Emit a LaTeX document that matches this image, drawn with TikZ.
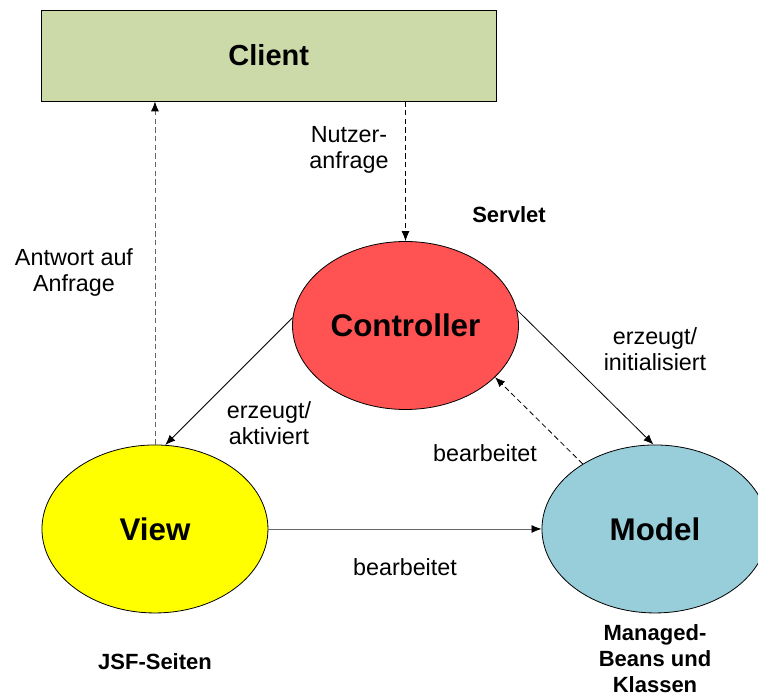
\documentclass[tikz,border=0pt]{standalone}
\usepackage{fontspec}
\setmainfont{Liberation Sans}
\usetikzlibrary{shapes.geometric,arrows.meta,positioning}

\definecolor{clientgreen}{RGB}{204,218,170}
\definecolor{ctrlred}{RGB}{255,82,82}
\definecolor{viewyellow}{RGB}{255,255,0}
\definecolor{modelblue}{RGB}{152,205,218}

\begin{document}
\begin{tikzpicture}[x=0.75pt, y=-0.75pt, node distance=152.6pt,
    bubble/.style={draw, ellipse, line width=0.6pt, minimum width=169.5pt, minimum height=126pt, inner sep=0pt, font=\fontsize{23.5}{28}\selectfont\bfseries},
    note/.style={align=center, font=\fontsize{17.5}{19.5}\selectfont},
    tag/.style={align=center, font=\fontsize{16.5}{19.5}\selectfont\bfseries},
    link/.style={line width=0.6pt, -{Latex[length=7.5pt,width=6pt,color=black]}},
    back/.style={link, dash pattern=on 4pt off 2.5pt}]
    \clip (0,0) rectangle (758,698);
    \node (client) [draw, rectangle, fill=clientgreen, line width=0.6pt, minimum width=341.25pt, minimum height=68.25pt, font=\fontsize{21.75}{26}\selectfont\bfseries] at (268.75,55.5) {Client};
    \node (controller) [bubble, fill=ctrlred] at (405.5,325.5) {Controller};
    \node (view) [bubble, fill=viewyellow, below of=controller, xshift=-187.9pt] {View};
    \node (model) [bubble, fill=modelblue, below of=controller, xshift=187.1pt] {Model};

    % labels
    \node (ask) [note] at (349,150) {Nutzer-\\anfrage};
    \node (servlet) [tag] at (509,215) {Servlet};
    \node (answer) [note] at (74,272) {Antwort auf\\Anfrage};
    \node (activate) [note] at (269,423) {erzeugt/\\aktiviert};
    \node (init) [note] at (655,349) {erzeugt/\\initialisiert};
    \node (editup) [note] at (485,453) {bearbeitet};
    \node (editlow) [note] at (405,567) {bearbeitet};
    \node (jsf) [tag] at (155,662) {JSF-Seiten};
    \node (beans) [tag] at (655,659) {Managed-\\Beans und\\Klassen};

    \draw [back] (client.south -| controller.north) -- (controller.north);
    \draw [back, draw=black!60] (view.north) -- (view.north |- client.south);
    \draw [link] (controller.176) -- (view.83);
    \draw [link] (controller.8) -- (model.91);
    \draw [back] (model.138) -- (controller.330);
    \draw [link, draw=black!60] (view.east) -- (model.west);
\end{tikzpicture}
\end{document}
